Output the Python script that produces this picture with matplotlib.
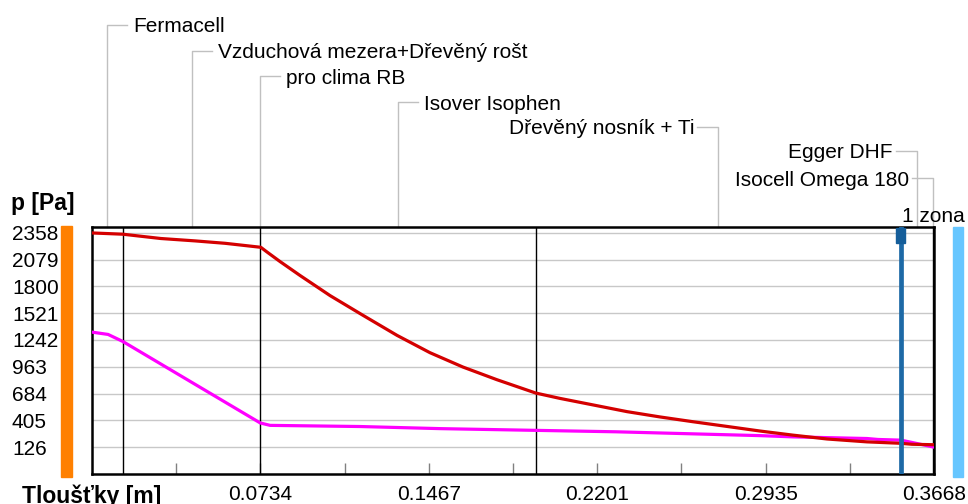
import matplotlib
matplotlib.use('Agg')
import matplotlib.pyplot as plt
from matplotlib.patches import Rectangle
from matplotlib.transforms import blended_transform_factory

plt.rcParams['font.family'] = ['Liberation Sans', 'DejaVu Sans']

# skladba konstrukce - hranice vrstev [m]
hranice = [0.0, 0.0134, 0.0733, 0.0735, 0.1933, 0.3524, 0.3662, 0.3668]
vrstvy = ['Fermacell', 'Vzduchová mezera+Dřevěný rošt', 'pro clima RB',
          'Isover Isophen', 'Dřevěný nosník + Ti', 'Egger DHF', 'Isocell Omega 180']
strana = ['l', 'l', 'l', 'l', 'r', 'r', 'r']
popis_y = [25, 51, 76, 102, 127, 151, 178]   # výška popisků v px od horního okraje

# nasycený tlak vodní páry ps
ps_x = [0.0, 0.0134, 0.03, 0.045, 0.058, 0.0733, 0.0735, 0.0762, 0.0819, 0.0906,
        0.1037, 0.118, 0.1329, 0.1472, 0.1616, 0.1764, 0.1933, 0.2039, 0.2183,
        0.2331, 0.2474, 0.2618, 0.2766, 0.291, 0.3054, 0.3202, 0.3376, 0.3524,
        0.3572, 0.3668]
ps = [2358, 2345, 2300, 2275, 2250, 2209, 2209, 2160, 2060, 1915,
      1705, 1500, 1290, 1110, 960, 828, 689, 633, 565,
      495, 440, 390, 341, 293, 250, 210, 180, 165,
      155, 150]

# částečný tlak vodní páry p
p_x = [0.0, 0.007, 0.0134, 0.0733, 0.0776, 0.1167, 0.1516, 0.1933, 0.2283,
       0.2675, 0.291, 0.3054, 0.3376, 0.3424, 0.3524, 0.357, 0.3668]
p = [1324, 1300, 1227, 377, 352, 340, 318, 300, 285,
     260, 245, 232, 215, 205, 198, 175, 125]

zona_x = 0.3524   # kondenzační zóna

y_ticks = [2358, 2079, 1800, 1521, 1242, 963, 684, 405, 126]
x_ticks = [0.0734, 0.1467, 0.2201, 0.2935, 0.3668]
x_minor = [0.0367, 0.1101, 0.1834, 0.2568, 0.3301]

W, H = 968, 504
fig = plt.figure(figsize=(W / 100, H / 100), dpi=100)
ax = fig.add_axes([92 / W, (H - 474) / H, 842 / W, 247 / H])
ax.set_xlim(0, 0.3668)
ax.set_ylim(-155, 2420)

ax.set_yticks(y_ticks)
ax.set_yticklabels([str(v) for v in y_ticks])
ax.tick_params(axis='y', length=0, pad=57.6, labelsize=15)
for t in ax.get_yticklabels():
    t.set_horizontalalignment('left')
ax.grid(axis='y', color='#c8c8c8', lw=1.0)

ax.set_xticks(x_ticks)
ax.set_xticklabels([f'{v:.4f}' for v in x_ticks])
ax.set_xticks(x_minor, minor=True)
ax.tick_params(axis='x', which='both', direction='in', length=8, width=1,
               color='#808080', labelsize=15, pad=8)

for s in ax.spines.values():
    s.set_linewidth(1.8)

px = 0.3668 / 842   # šířka jednoho pixelu v metrech

# hranice vrstev (velmi tenké vrstvy jen jednou čarou)
posledni = 0.0
for h in hranice[1:-1]:
    if h - posledni > px:
        ax.axvline(h, color='black', lw=1.0, zorder=2)
    posledni = h

ax.plot(ps_x, ps, color='#d40000', lw=2.3, zorder=4)
ax.plot(p_x, p, color='#ff00ff', lw=2.3, zorder=3)

ax.axvline(zona_x, color='#1d69a6', lw=3.4, zorder=5)
ax.add_patch(Rectangle((zona_x - 4.5 * px, 1 - 16 / 247), 9 * px, 15 / 247,
                       transform=ax.get_xaxis_transform(), color='#155e9a',
                       zorder=6, clip_on=False))

# popisky vrstev s odkazovými čarami
tr = blended_transform_factory(ax.transData, fig.transFigure)
for i, nazev in enumerate(vrstvy):
    stred = (hranice[i] + hranice[i + 1]) / 2
    yy = 1 - popis_y[i] / H
    ytop = 1 - 227 / H
    if strana[i] == 'l':
        xs = [stred + 20 * px, stred, stred]
        tx, ha = stred + 26 * px, 'left'
    else:
        xs = [stred - 21 * px, stred, stred]
        tx, ha = stred - 24 * px, 'right'
    ax.plot(xs, [yy, yy, ytop], color='#c0c0c0', lw=1.0, transform=tr,
            clip_on=False, zorder=1)
    ax.text(tx, yy, nazev, transform=tr, ha=ha, va='center_baseline',
            fontsize=15, zorder=7)

ax.text(zona_x + 1 * px, 1 - 214 / H, '1 zona', transform=tr, ha='left',
        va='center_baseline', fontsize=15, zorder=7)

# strana interiéru a exteriéru
fig.patches.append(Rectangle((61 / W, 1 - 477 / H), 11 / W, 251 / H,
                             transform=fig.transFigure, color='#ff8000'))
fig.patches.append(Rectangle((953 / W, 1 - 477 / H), 10 / W, 250 / H,
                             transform=fig.transFigure, color='#66c6ff'))

fig.text(11 / W, 1 - 201 / H, 'p [Pa]', fontsize=16.5, fontweight='bold',
         va='center_baseline', ha='left')
fig.text(22 / W, 1 - 485 / H, 'Tloušťky [m]', fontsize=16.5, fontweight='bold',
         va='top', ha='left')

fig.savefig('out.png', dpi=100)
